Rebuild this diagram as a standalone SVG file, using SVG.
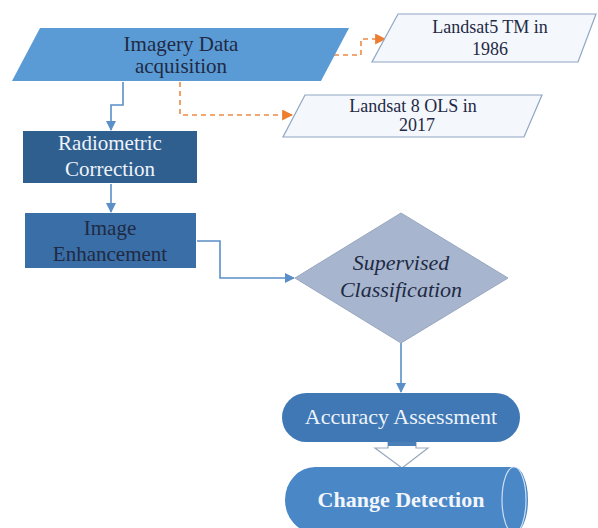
<svg xmlns="http://www.w3.org/2000/svg" width="598" height="528" viewBox="0 0 598 528" font-family="'Liberation Serif', 'DejaVu Serif', serif">
  <defs>
    <style>
      text { font-family: 'Liberation Serif', 'DejaVu Serif', serif; text-anchor: middle; }
      .t-dark { fill: #1f2a44; font-size: 21px; }
      .t-light { fill: #eef3fa; font-size: 21px; }
      .t-src { fill: #1f2a44; font-size: 18px; }
      .src { fill: #f4f7fc; stroke: #8fa6c4; stroke-width: 1.2; }
      .flow { fill: none; stroke: #5b8fc7; stroke-width: 1.6; }
      .dash { fill: none; stroke: #ed8a45; stroke-width: 1.6; stroke-dasharray: 5 4; }
    </style>
    <marker id="arrBlue" viewBox="0 0 10 10" refX="9" refY="5" markerWidth="10" markerHeight="10" orient="auto" markerUnits="userSpaceOnUse">
      <path d="M0,0 L10,5 L0,10 z" fill="#5b8fc7"/>
    </marker>
    <marker id="arrOrange" viewBox="0 0 10 10" refX="9" refY="5" markerWidth="11" markerHeight="11" orient="auto" markerUnits="userSpaceOnUse">
      <path d="M0,0 L10,5 L0,10 z" fill="#ed7d31"/>
    </marker>
  </defs>

  <rect width="598" height="528" fill="#ffffff"/>

  <!-- connectors -->
  <g id="connectors">
    <path class="dash" d="M334,55 H361 V39 H385" marker-end="url(#arrOrange)"/>
    <path class="dash" d="M180,82 V115 H292" marker-end="url(#arrOrange)"/>
    <path class="flow" d="M123,82 V105 H111 V130" marker-end="url(#arrBlue)"/>
    <path class="flow" d="M111,184 V212" marker-end="url(#arrBlue)"/>
    <path class="flow" d="M197,241 H220 V278 H294" marker-end="url(#arrBlue)"/>
    <path class="flow" d="M401,343 V392" marker-end="url(#arrBlue)"/>
    <!-- hollow block arrow between assessment and detection -->
    <path d="M388,442 H416 V448 H428 L402,468 L375,448 H388 Z" fill="#ffffff" stroke="#9aa9bf" stroke-width="1.2"/>
    <rect x="388" y="442" width="28" height="4" fill="#4a7fb8"/>
  </g>

  <g id="imagery">
    <polygon points="40,28 349,28 321,81 12,81" fill="#5b9bd5"/>
    <text class="t-dark" x="181" y="51">Imagery Data</text>
    <text class="t-dark" x="181" y="73">acquisition</text>
  </g>

  <g id="landsat5">
    <polygon class="src" points="398,14 596,14 578,62 372,62"/>
    <text class="t-src" x="490" y="33">Landsat5 TM in</text>
    <text class="t-src" x="490" y="55">1986</text>
  </g>

  <g id="landsat8">
    <polygon class="src" points="305,95 542,95 524,137 283,137"/>
    <text class="t-src" x="413" y="112">Landsat 8 OLS in</text>
    <text class="t-src" x="417" y="131">2017</text>
  </g>

  <g id="radiometric">
    <rect x="23" y="131" width="174" height="52" fill="#2f5f8f"/>
    <text class="t-light" x="110" y="150">Radiometric</text>
    <text class="t-light" x="110" y="176">Correction</text>
  </g>

  <g id="enhancement">
    <rect x="25" y="213" width="171" height="55" fill="#3a6ea6"/>
    <text class="t-dark" x="110" y="235">Image</text>
    <text class="t-dark" x="110" y="261">Enhancement</text>
  </g>

  <g id="classification">
    <polygon points="401,213 508,278 401,343 295,278" fill="#a7b6ce" stroke="#97a7c0" stroke-width="1"/>
    <text class="t-dark" x="401" y="270" style="font-size:22px; font-style:italic">Supervised</text>
    <text class="t-dark" x="401" y="297" style="font-size:22px; font-style:italic">Classification</text>
  </g>

  <g id="accuracy">
    <rect x="282" y="393" width="238" height="49" rx="24.5" ry="24.5" fill="#3f78b5"/>
    <text class="t-light" x="401" y="424" style="font-size:22px">Accuracy Assessment</text>
  </g>

  <g id="detection">
    <path d="M315,467 H514 A14,33 0 0 1 514,533 H315 A30,33 0 0 1 315,467 Z" fill="#4a87c7"/>
    <ellipse cx="514" cy="500" rx="12" ry="33" fill="none" stroke="#cfdff0" stroke-width="1.2"/>
    <text x="401" y="507" style="font-size:22px; font-weight:bold" fill="#f2f6fb">Change Detection</text>
  </g>
</svg>
